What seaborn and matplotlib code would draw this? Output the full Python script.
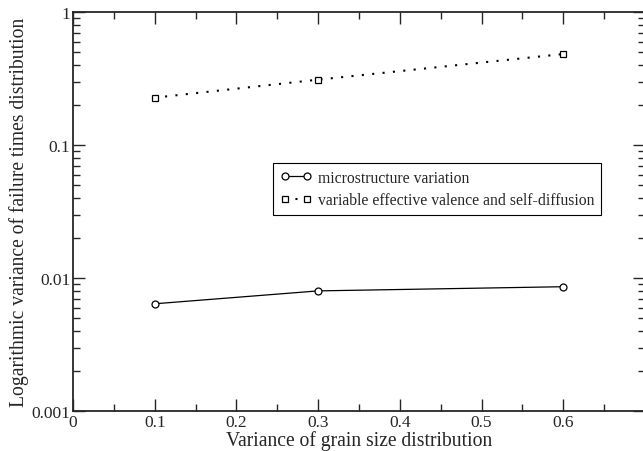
import pandas as pd
import matplotlib
matplotlib.use("Agg")
import matplotlib.pyplot as plt
import seaborn as sns
from matplotlib.ticker import LogLocator, MultipleLocator, FixedFormatter, FixedLocator

grain_var = [0.1, 0.3, 0.6]
micro_var = [0.0064, 0.0080, 0.0086]
valence_var = [0.227, 0.310, 0.483]

micro_label = "microstructure variation"
valence_label = "variable effective valence and self-diffusion"

sns.set_style("ticks")
plt.rcParams['font.family'] = ['Liberation Serif', 'DejaVu Serif']

df_micro = pd.DataFrame({'x': grain_var, 'y': micro_var})
df_val = pd.DataFrame({'x': grain_var, 'y': valence_var})

fig = plt.figure(figsize=(6.43, 4.52), dpi=100)
ax = fig.add_axes([73 / 643, 40 / 452, 572 / 643, 399 / 452])

sns.lineplot(data=df_micro, x='x', y='y', ax=ax, color='black', linewidth=0.9,
             marker='o', markersize=5, markerfacecolor='white', markeredgecolor='black',
             markeredgewidth=0.9, label=micro_label)
sns.lineplot(data=df_val, x='x', y='y', ax=ax, color='black', linewidth=1.5,
             linestyle=(0, (1, 4)), marker='s', markersize=4.5, markerfacecolor='white',
             markeredgecolor='black', markeredgewidth=0.9, label=valence_label)

ax.set_yscale('log')
ax.set_xlim(0, 0.7)
ax.set_ylim(0.001, 1)

ax.xaxis.set_major_locator(FixedLocator([0, 0.1, 0.2, 0.3, 0.4, 0.5, 0.6]))
ax.xaxis.set_major_formatter(FixedFormatter(['0', '0.1', '0.2', '0.3', '0.4', '0.5', '0.6']))
ax.xaxis.set_minor_locator(MultipleLocator(0.05))
ax.yaxis.set_major_locator(FixedLocator([0.001, 0.01, 0.1, 1]))
ax.yaxis.set_major_formatter(FixedFormatter(['0.001', '0.01', '0.1', '1']))
ax.yaxis.set_minor_locator(LogLocator(base=10, subs=range(2, 10)))
ax.yaxis.set_minor_formatter(plt.NullFormatter())

ax.tick_params(which='both', direction='in', top=True, right=True, labelsize=12.5, pad=2)
ax.tick_params(which='major', length=8.5, width=1)
ax.tick_params(which='minor', length=5, width=1)
for s in ax.spines.values():
    s.set_linewidth(1.3)

ax.set_xlabel("Variance of grain size distribution", fontsize=14.1, labelpad=0)
ax.set_ylabel("Logarithmic variance of failure times distribution", fontsize=14.1, labelpad=2)

leg = ax.legend(loc='upper left', bbox_to_anchor=(0.35, 0.622), borderaxespad=0,
                fontsize=11.3, numpoints=2, handlelength=2.0, handletextpad=0.4,
                frameon=True, fancybox=False, edgecolor='black', framealpha=1,
                borderpad=0.45, labelspacing=0.4)
leg.get_frame().set_linewidth(0.8)

fig.savefig("out.png", dpi=100)
